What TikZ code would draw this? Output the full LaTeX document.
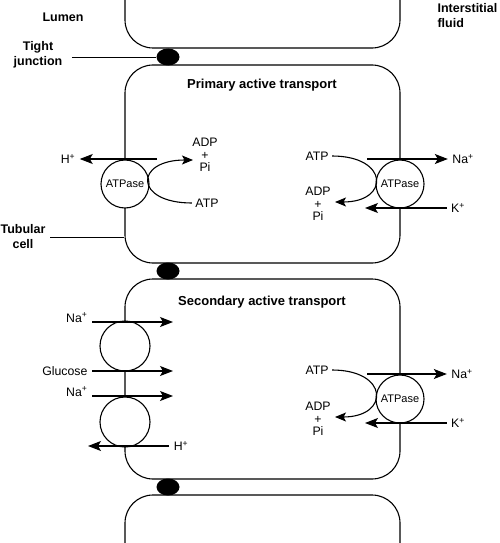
\documentclass[tikz,border=0pt]{standalone}
\usepackage{fontspec}
\setmainfont{Liberation Sans}
\usepackage{tikz}
\usetikzlibrary{arrows.meta,positioning,calc,shapes.geometric}

\begin{document}
\begin{tikzpicture}[x=1pt, y=-1pt, line width=1.1pt,
  every node/.style={font=\fontsize{12.3}{12.5}\selectfont},
  cellbox/.style={draw, rounded corners=28pt, minimum width=275pt, inner sep=0pt},
  junction/.style={ellipse, fill=black, minimum width=23pt, minimum height=17pt, inner sep=0pt},
  pump/.style={circle, draw, fill=white, minimum size=48pt, inner sep=0pt, font=\fontsize{11}{11}\selectfont},
  carrier/.style={circle, draw, fill=white, minimum size=50pt, inner sep=0pt},
  tag/.style={font=\bfseries\fontsize{12.5}{15}\selectfont, align=center, inner sep=0pt},
  title/.style={font=\bfseries\fontsize{13}{15}\selectfont, inner sep=0pt},
  ion/.style={inner sep=4pt},
  chem/.style={align=center, inner sep=3pt},
  flux/.style={-{Stealth[length=13pt,width=10pt,inset=3pt]}},
  react/.style={-{Stealth[length=11pt,width=9pt,inset=2.5pt]}}]
  \clip (0,0) rectangle (500,543);

  % cells and tight junctions
  \node[cellbox, minimum height=98pt] (cellT) at (262.5,-1) {};
  \node[cellbox, minimum height=198pt] (cellP) at (262.5,164) {};
  \node[cellbox, minimum height=200pt] (cellS) at (262.5,379) {};
  \node[cellbox, minimum height=105pt] (cellB) at (262.5,547.5) {};
  \node[junction] (tjA) at (168,57) {};
  \node[junction] (tjB) at (168,271) {};
  \node[junction] (tjC) at (168,487) {};

  % side labels
  \node[tag] (lumen) at (63,17) {Lumen};
  \node[tag, align=left, anchor=west] (inter) at (437,16) {Interstitial\\fluid};
  \node[tag] (tight) at (38,55) {Tight\\junction};
  \node[tag] (tubular) at (23,237) {Tubular\\cell};
  \draw[line width=0.9pt, shorten <=9pt] (tight.east |- tjA) -- (tjA.west);
  \draw[line width=0.9pt, shorten <=4pt] (tubular.east) -- (tubular.east -| cellP.west);

  % primary active transport
  \node[title] (primTitle) at (262,85) {Primary active transport};
  \node[pump] (pumpL) at (125,184) {ATPase};
  \node[pump] (pumpR) at (400,184) {ATPase};

  \node[ion] (hP) at (68,159) {H\textsuperscript{+}};
  \coordinate (hPfrom) at (157,159);
  \draw[flux] (hPfrom) -- (hP);
  \node[chem] (atpP) at (207,203) {ATP};
  \node[chem] (adpP) at (205,155) {ADP\\+\\Pi};
  \coordinate (adpPtip) at (193,160);
  \draw[react] (atpP.west) .. controls +(-58,0) and +(-59,0) .. (adpPtip);

  \node[ion] (naP) at (463,159) {Na\textsuperscript{+}};
  \coordinate (naPfrom) at (367,159);
  \draw[flux] (naPfrom) -- (naP);
  \node[ion] (kP) at (458,208) {K\textsuperscript{+}};
  \coordinate (kPto) at (365,208);
  \draw[flux] (kP) -- (kPto);
  \node[chem] (atpQ) at (317,156) {ATP};
  \node[chem] (adpQ) at (318,204) {ADP\\+\\Pi};
  \coordinate (adpQtip) at (335,202);
  \draw[react] (atpQ.east) .. controls +(57,0) and +(55,0) .. (adpQtip);

  % secondary active transport
  \node[title] (secTitle) at (262,302) {Secondary active transport};
  \node[carrier] (carA) at (125,346) {};
  \node[carrier] (carB) at (125,422) {};
  \node[pump] (pumpS) at (400,399) {ATPase};

  \node[ion, anchor=base east] (naS1) at (92,322) {Na\textsuperscript{+}};
  \coordinate (naS1to) at (173,322);
  \draw[flux] (naS1.base east) -- (naS1to);
  \node[ion, anchor=east] (glu) at (92,371) {Glucose};
  \coordinate (gluto) at (173,371);
  \draw[flux] (glu.east) -- (gluto);
  \node[ion, anchor=base east] (naS2) at (92,396) {Na\textsuperscript{+}};
  \coordinate (naS2to) at (173,396);
  \draw[flux] (naS2.base east) -- (naS2to);
  \node[ion] (hS) at (181,446) {H\textsuperscript{+}};
  \coordinate (hSto) at (88,446);
  \draw[flux] (hS) -- (hSto);

  \node[ion] (naT) at (462,374) {Na\textsuperscript{+}};
  \coordinate (naTfrom) at (367,374);
  \draw[flux] (naTfrom) -- (naT);
  \node[ion] (kT) at (458,423) {K\textsuperscript{+}};
  \coordinate (kTto) at (365,423);
  \draw[flux] (kT) -- (kTto);
  \node[chem] (atpT) at (317,370) {ATP};
  \node[chem] (adpT) at (318,419) {ADP\\+\\Pi};
  \coordinate (adpTtip) at (335,417);
  \draw[react] (atpT.east) .. controls +(57,0) and +(55,0) .. (adpTtip);
\end{tikzpicture}
\end{document}
